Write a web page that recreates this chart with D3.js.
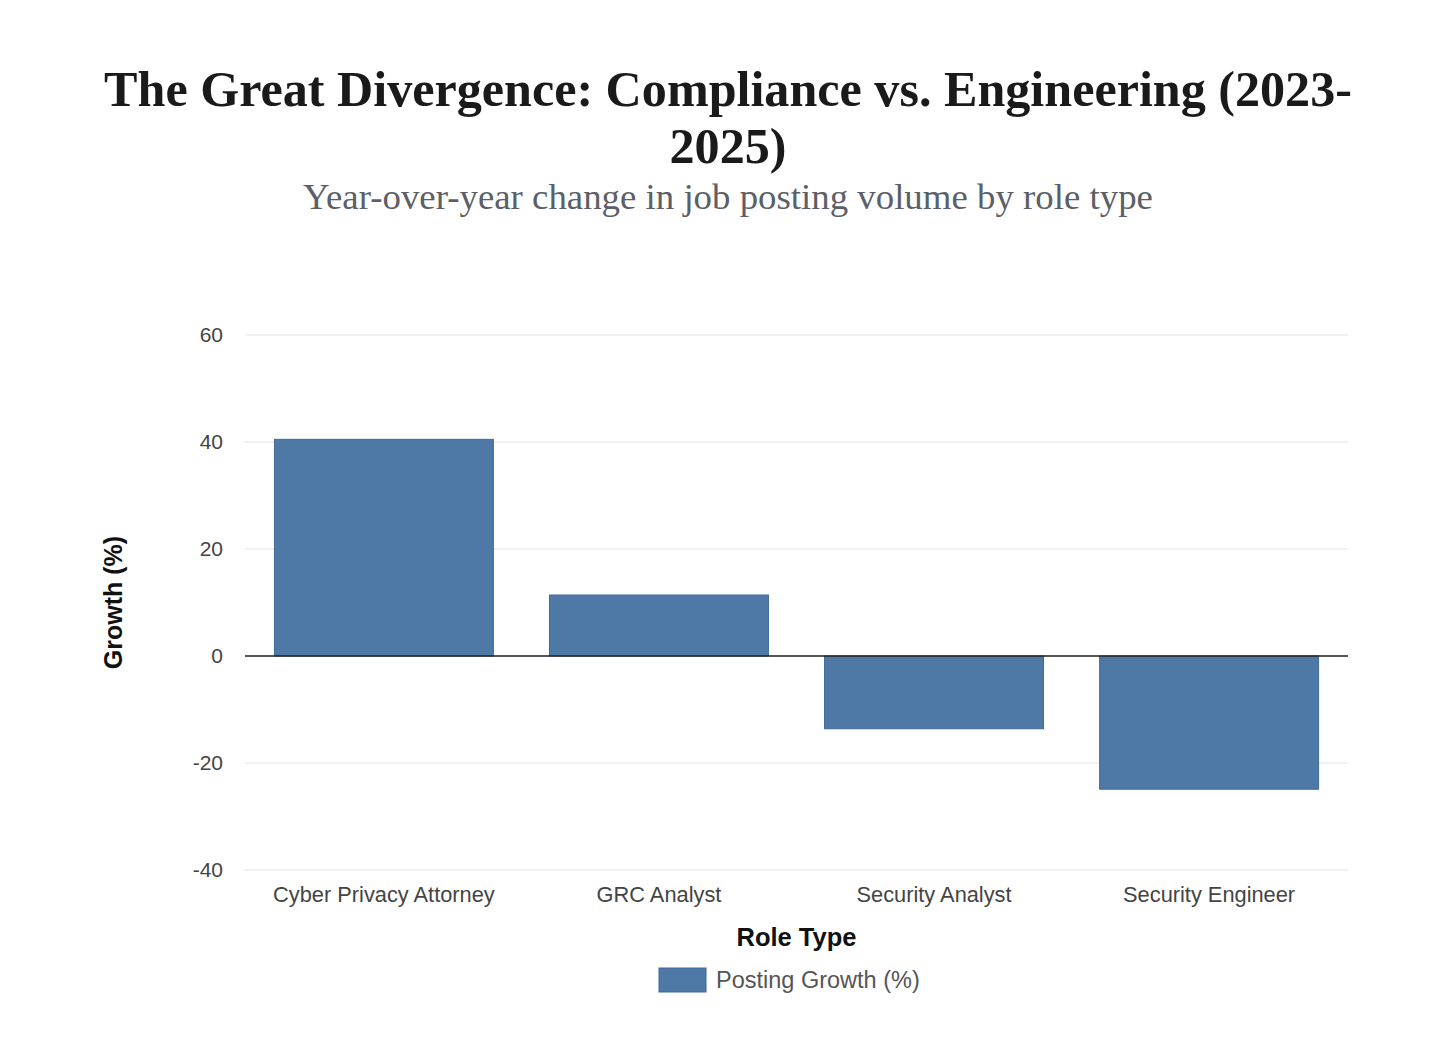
<!DOCTYPE html>
<html>
<head>
<meta charset="utf-8">
<script src="https://cdn.jsdelivr.net/npm/d3@7"></script>
<style>
  body { margin: 0; background: #fff; }
  svg { display: block; }
</style>
</head>
<body>
<svg id="chart" width="1456" height="1048"></svg>
<script>
const roles = ['Cyber Privacy Attorney', 'GRC Analyst', 'Security Analyst', 'Security Engineer'];
const growth = [40.5, 11.4, -13.6, -24.9];
const yTicks = [-40, -20, 0, 20, 40, 60];
const titleLines = ['The Great Divergence: Compliance vs. Engineering (2023-', '2025)'];
const subtitle = 'Year-over-year change in job posting volume by role type';
const seriesName = 'Posting Growth (%)';

const barColor = '#4e79a7',
  plotLeft = 245, plotRight = 1348, plotTop = 335, plotBottom = 870,
  sans = '"Liberation Sans", Arial, sans-serif',
  serif = '"Liberation Serif", "DejaVu Serif", serif';

const svg = d3.select('#chart');

// title, fitted to the reference width
const title = svg.append('text')
  .attr('text-anchor', 'middle')
  .attr('font-family', serif)
  .attr('font-weight', 'bold')
  .attr('fill', '#1a1a1a')
  .attr('font-size', 46);
title.selectAll('tspan')
  .data(titleLines)
  .enter()
  .append('tspan')
  .attr('x', 728)
  .attr('y', (_, i) => 106 + i * 57)
  .text((d) => d);
const w = title.select('tspan').node().getComputedTextLength();
title.attr('font-size', 46 * 1248 / w);

const sub = svg.append('text')
  .attr('x', 728).attr('y', 209)
  .attr('text-anchor', 'middle')
  .attr('font-family', serif)
  .attr('font-size', 33)
  .attr('fill', '#5b6068')
  .text(subtitle);
const sw = sub.node().getComputedTextLength();
sub.attr('font-size', 33 * 850 / sw);

const x = d3.scaleBand().domain(roles).range([plotLeft, plotRight]).paddingInner(0.204).paddingOuter(0.107);
const y = d3.scaleLinear().domain([-40, 60]).range([plotBottom, plotTop]);

// grid
svg.append('g')
  .selectAll('line')
  .data(yTicks)
  .enter()
  .append('line')
  .attr('x1', plotLeft).attr('x2', plotRight)
  .attr('y1', (d) => y(d)).attr('y2', (d) => y(d))
  .attr('stroke', '#e2e4e8')
  .attr('stroke-width', 1.2);

// y axis labels
const yAxis = svg.append('g')
  .attr('transform', `translate(${plotLeft},0)`)
  .call(d3.axisLeft(y).tickValues(yTicks).tickFormat((d) => String(d)).tickSize(0).tickPadding(22));
yAxis.select('.domain').remove();
yAxis.selectAll('text')
  .attr('font-family', sans)
  .attr('font-size', 21)
  .attr('fill', '#444');

// bars
svg.append('g')
  .selectAll('rect')
  .data(roles)
  .enter()
  .append('rect')
  .attr('x', (d) => x(d))
  .attr('width', x.bandwidth())
  .attr('y', (_, i) => y(Math.max(0, growth[i])))
  .attr('height', (_, i) => Math.abs(y(growth[i]) - y(0)))
  .attr('fill', barColor)
  .attr('stroke', '#3f6a98')
  .attr('stroke-width', 1);

// zero line
svg.append('line')
  .attr('x1', plotLeft).attr('x2', plotRight)
  .attr('y1', y(0)).attr('y2', y(0))
  .attr('stroke', '#222')
  .attr('stroke-width', 1.5);

// x axis labels
const xAxis = svg.append('g')
  .attr('transform', `translate(0,${plotBottom})`)
  .call(d3.axisBottom(x).tickSize(0).tickPadding(17));
xAxis.select('.domain').remove();
xAxis.selectAll('text')
  .attr('font-family', sans)
  .attr('font-size', 21.8)
  .attr('fill', '#444');

// axis titles
svg.append('text')
  .attr('x', (plotLeft + plotRight) / 2).attr('y', 946)
  .attr('text-anchor', 'middle')
  .attr('font-family', sans)
  .attr('font-weight', 'bold')
  .attr('font-size', 25.5)
  .attr('fill', '#111')
  .text('Role Type');

svg.append('text')
  .attr('transform', `translate(122,${(plotTop + plotBottom) / 2}) rotate(-90)`)
  .attr('text-anchor', 'middle')
  .attr('font-family', sans)
  .attr('font-weight', 'bold')
  .attr('font-size', 25)
  .attr('fill', '#111')
  .text('Growth (%)');

// legend
const legend = svg.append('g');
legend.append('rect')
  .attr('x', 659).attr('y', 968)
  .attr('width', 47).attr('height', 24)
  .attr('fill', barColor)
  .attr('stroke', '#3f6a98');
legend.append('text')
  .attr('x', 716).attr('y', 988)
  .attr('font-family', sans)
  .attr('font-size', 23.5)
  .attr('fill', '#555')
  .text(seriesName);
</script>
</body>
</html>
